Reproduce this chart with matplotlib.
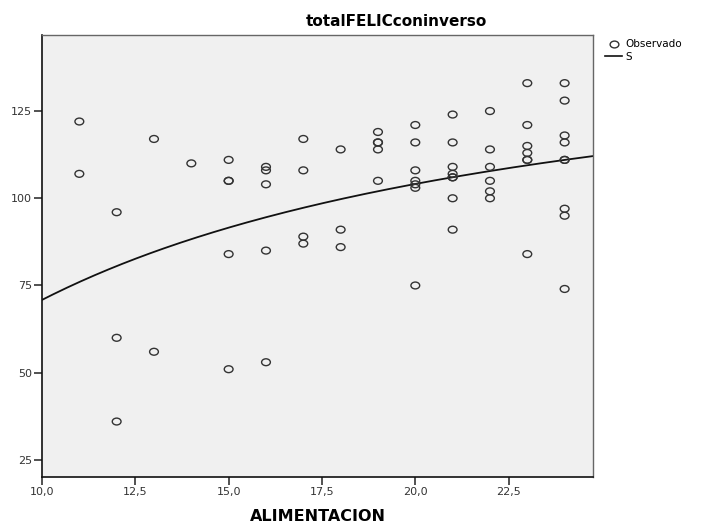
import matplotlib
matplotlib.use("Agg")
import matplotlib.pyplot as plt
import numpy as np
from matplotlib.path import Path
from matplotlib.lines import Line2D
from matplotlib.ticker import FuncFormatter

# observed points: ALIMENTACION (x) vs totalFELICconinverso (y)
alim = [11, 11,
        12, 12, 12,
        13, 13,
        14,
        15, 15, 15, 15, 15,
        16, 16, 16, 16, 16,
        17, 17, 17, 17,
        18, 18, 18,
        19, 19, 19, 19, 19,
        20, 20, 20, 20, 20, 20, 20,
        21, 21, 21, 21, 21, 21, 21, 21,
        22, 22, 22, 22, 22, 22,
        23, 23, 23, 23, 23, 23, 23,
        24, 24, 24, 24, 24, 24, 24, 24, 24]
felic = [122, 107,
         96, 60, 36,
         117, 56,
         110,
         111, 105, 105, 84, 51,
         109, 108, 104, 85, 53,
         117, 108, 89, 87,
         114, 91, 86,
         119, 116, 116, 114, 105,
         121, 116, 108, 105, 104, 103, 75,
         124, 116, 109, 107, 106, 106, 100, 91,
         125, 114, 109, 105, 102, 100,
         133, 121, 115, 113, 111, 111, 84,
         133, 128, 118, 116, 111, 111, 97, 95, 74]

xticks = [10, 12.5, 15, 17.5, 20, 22.5]
yticks = [25, 50, 75, 100, 125]

x = np.array(alim, dtype=float)
y = np.array(felic, dtype=float)

# S model: ln(y) = b0 + b1/x
b1, b0 = np.polyfit(1.0 / x, np.log(y), 1)
xmin, xmax = 10.0, 24.76
xs = np.linspace(xmin, xmax, 200)
ys = np.exp(b0 + b1 / xs)

# slightly flattened circle like the SPSS marker
circ = Path.unit_circle()
oval = Path(circ.vertices * np.array([1.0, 0.78]), circ.codes)

fig = plt.figure(figsize=(7.02, 5.25), dpi=100)
ax = fig.add_axes([42 / 702, 1 - 477 / 525, (593 - 42) / 702, (477 - 35) / 525])
ax.set_facecolor("#f0f0f0")

ax.plot(xs, ys, color="#111111", lw=1.3, zorder=2)
ax.scatter(x, y, marker=oval, s=40, facecolors="none", edgecolors="#333333",
           linewidths=1.0, zorder=3)

ax.set_xlim(xmin, xmax)
ax.set_ylim(20.1, 146.8)
ax.set_xticks(xticks)
ax.set_yticks(yticks)
ax.xaxis.set_major_formatter(FuncFormatter(lambda v, p: f"{v:.1f}".replace(".", ",")))
ax.tick_params(direction="out", length=6, width=1.1, color="#222222",
               labelsize=8, labelcolor="#333333", pad=1)

for s in ["left", "bottom"]:
    ax.spines[s].set_color("#111111")
    ax.spines[s].set_linewidth(1.2)
for s in ["top", "right"]:
    ax.spines[s].set_color("#666666")
    ax.spines[s].set_linewidth(1.0)

ax.set_xlabel("ALIMENTACION", fontsize=11.5, fontweight="bold", labelpad=9)
fig.text(396 / 702, 1 - 21 / 525, "totalFELICconinverso", ha="center",
         va="center", fontsize=11, fontweight="bold")

handles = [Line2D([], [], marker=oval, ls="none", markersize=6.3,
                  markerfacecolor="none", markeredgecolor="#333333", mew=1.0),
           Line2D([], [], color="#111111", lw=1.2)]
fig.legend(handles, ["Observado", "S"], loc="upper left",
           bbox_to_anchor=(600 / 702, 1 - 34 / 525), frameon=False,
           fontsize=7.5, handlelength=1.6, handletextpad=0.3,
           labelspacing=0.25, borderpad=0)

fig.savefig("out.png", dpi=100)
